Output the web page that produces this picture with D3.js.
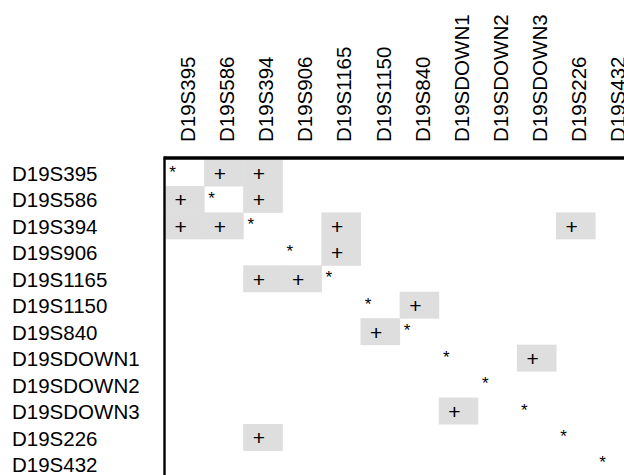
<!DOCTYPE html>
<html>
<head>
<meta charset="utf-8">
<script src="https://cdn.jsdelivr.net/npm/d3@7"></script>
<style>
	html, body { margin: 0; padding: 0; background: #fff; overflow: hidden; }
	svg { display: block; font-family: "Liberation Sans", Arial, Helvetica, sans-serif; }
</style>
</head>
<body>
<svg id="chart" width="624" height="475"></svg>
<script>
const markers = ['D19S395', 'D19S586', 'D19S394', 'D19S906', 'D19S1165', 'D19S1150',
	'D19S840', 'D19SDOWN1', 'D19SDOWN2', 'D19SDOWN3', 'D19S226', 'D19S432'];

// one string per row, one character per column: * self, + linked, . nothing
const rows = [
	'*++.........',
	'+*+.........',
	'++*.+.....+.',
	'...*+.......',
	'..++*.......',
	'.....*+.....',
	'.....+*.....',
	'.......*.+..',
	'........*...',
	'.......+.*..',
	'..+.......*.',
	'...........*'
];

const w = 624;
const h = 475;
const gridLeft = 165;
const gridTop = 159.5;
const colStep = 39.1;
const rowStep = 26.45;

const svg = d3.select('#chart');

const xScale = d3.scaleBand()
	.domain(markers)
	.range([gridLeft, gridLeft + colStep * markers.length]);

const yScale = d3.scaleBand()
	.domain(markers)
	.range([gridTop, gridTop + rowStep * markers.length]);

const cells = [];
rows.forEach((r, i) => {
	r.split('').forEach((c, j) => {
		if (c !== '.') cells.push({ row: markers[i], col: markers[j], mark: c });
	});
});

// gray boxes behind the linked pairs
svg.selectAll('rect.cell')
	.data(cells.filter(d => d.mark === '+'))
	.enter()
	.append('rect')
	.attr('class', 'cell')
	.attr('x', d => xScale(d.col))
	.attr('y', d => yScale(d.row))
	.attr('width', xScale.bandwidth() + 0.5)
	.attr('height', yScale.bandwidth() + 0.5)
	.attr('fill', '#dedede');

svg.selectAll('text.plus')
	.data(cells.filter(d => d.mark === '+'))
	.enter()
	.append('text')
	.attr('class', 'plus')
	.attr('x', d => xScale(d.col) + xScale.bandwidth() / 2 - 3.8)
	.attr('y', d => yScale(d.row) + 21.4)
	.attr('text-anchor', 'middle')
	.attr('font-size', 21)
	.attr('fill', '#000')
	.text('+');

svg.selectAll('text.self')
	.data(cells.filter(d => d.mark === '*'))
	.enter()
	.append('text')
	.attr('class', 'self')
	.attr('x', d => xScale(d.col) + 7.5)
	.attr('y', d => yScale(d.row) + 18)
	.attr('text-anchor', 'middle')
	.attr('font-size', 17)
	.attr('fill', '#000')
	.text('*');

// row labels
svg.selectAll('text.row-label')
	.data(markers)
	.enter()
	.append('text')
	.attr('class', 'row-label')
	.attr('x', 12)
	.attr('y', d => yScale(d) + yScale.bandwidth() / 2 + 8.3)
	.attr('font-size', 20.5)
	.attr('fill', '#000')
	.text(d => d);

// column labels, rotated
svg.selectAll('text.col-label')
	.data(markers)
	.enter()
	.append('text')
	.attr('class', 'col-label')
	.attr('transform', d => 'translate(' + (xScale(d) + 30) + ', 142) rotate(-90)')
	.attr('font-size', 20.5)
	.attr('fill', '#000')
	.text(d => d);

// frame: thick top, thinner left
svg.append('line')
	.attr('x1', gridLeft - 1.2)
	.attr('x2', w)
	.attr('y1', gridTop - 1.5)
	.attr('y2', gridTop - 1.5)
	.attr('stroke', '#000')
	.attr('stroke-width', 3.6);

svg.append('line')
	.attr('x1', gridLeft - 0.5)
	.attr('x2', gridLeft - 0.5)
	.attr('y1', gridTop - 3)
	.attr('y2', h)
	.attr('stroke', '#000')
	.attr('stroke-width', 2.4);
</script>
</body>
</html>
